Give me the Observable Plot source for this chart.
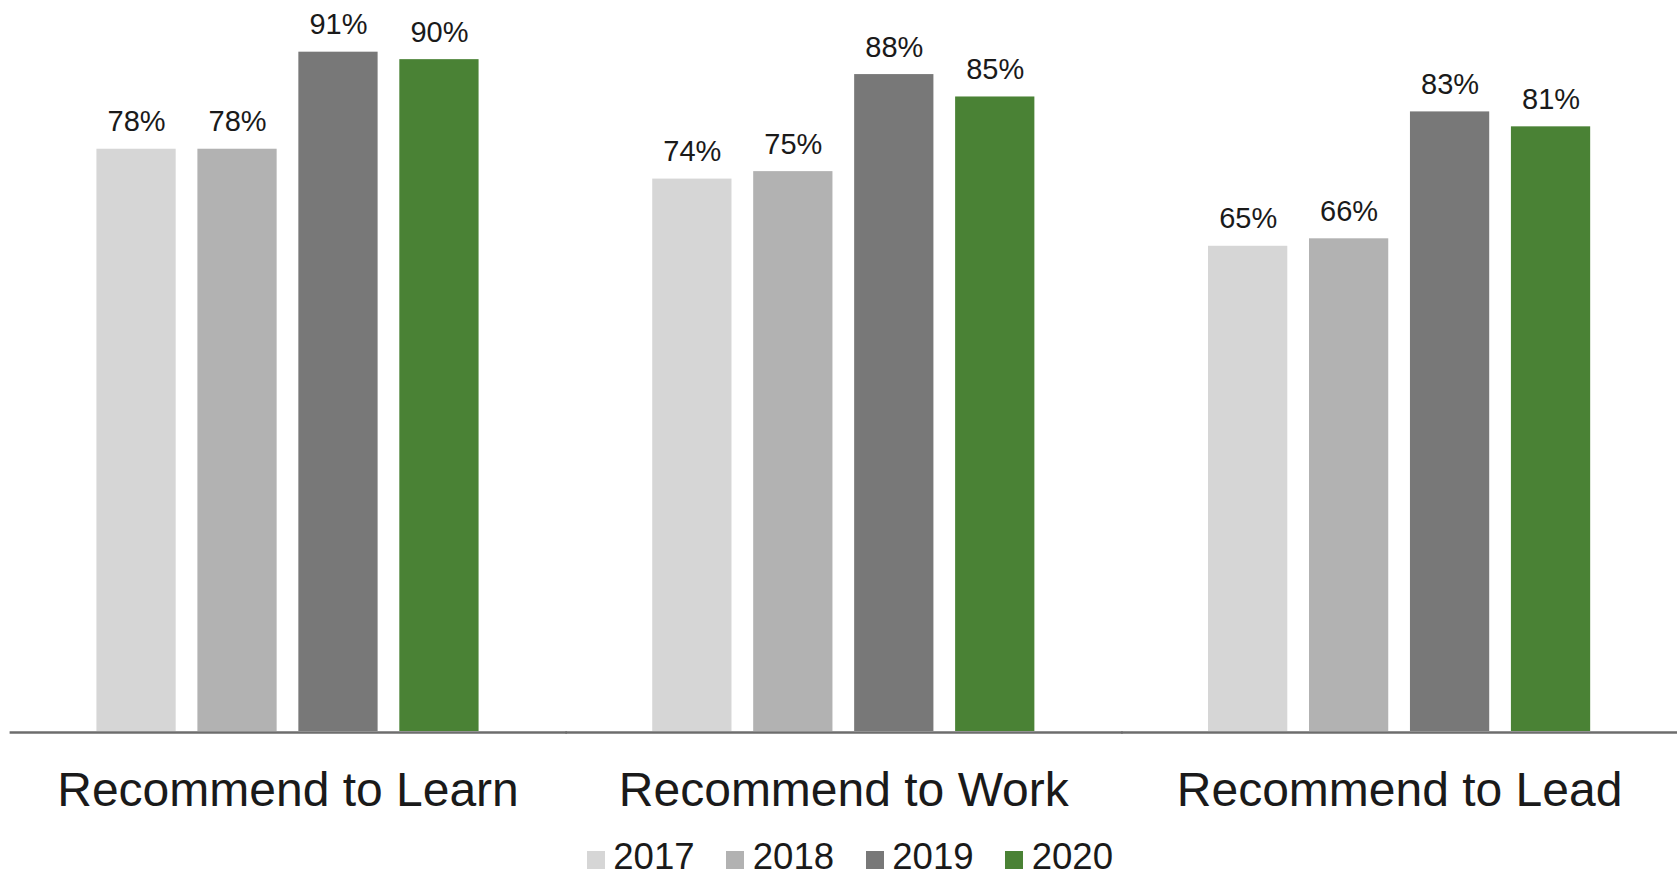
<!DOCTYPE html>
<html><head><meta charset="utf-8">
<script src="https://cdn.jsdelivr.net/npm/d3@7"></script>
<script src="https://cdn.jsdelivr.net/npm/@observablehq/plot@0.6"></script>
<style>
body{margin:0;background:#fff;font-family:"Liberation Sans",Arial,sans-serif;overflow:hidden}
#wrap{position:relative;width:1677px;height:876px;overflow:hidden}
#wrap svg{display:block}
#legend{position:absolute;left:586.7px;top:839.3px;display:flex;gap:31.5px;font-size:36.6px;line-height:36px;color:#1a1a1a}
.item{position:relative;padding-left:26.6px;white-space:nowrap}
.sw{position:absolute;left:0;top:12.2px;width:18.3px;height:17.6px}
</style></head><body><div id="wrap"></div>
<script>
const categories = ["Recommend to Learn", "Recommend to Work", "Recommend to Lead"];
const years = ["2017", "2018", "2019", "2020"];
const colors = ["#d6d6d6", "#b2b2b2", "#787878", "#4a8235"];
const values2017 = [78, 74, 65];
const values2018 = [78, 75, 66];
const values2019 = [91, 88, 83];
const values2020 = [90, 85, 81];
const series = [values2017, values2018, values2019, values2020];

const data = [];
categories.forEach((c, i) => years.forEach((y, j) => data.push({category: c, year: y, value: series[j][i]})));

const chart = Plot.plot({
  width: 1677, height: 836,
  marginLeft: 9.6, marginRight: 0, marginTop: 0, marginBottom: 105,
  style: {fontFamily: "'Liberation Sans', Arial, sans-serif", background: "transparent"},
  fx: {domain: categories, padding: 0, round: false, label: null},
  x: {domain: years, paddingInner: 0.215, paddingOuter: 0.86, round: false, axis: null},
  y: {domain: [0, 100], range: [731, -15.5], axis: null},
  color: {domain: years, range: colors},
  marks: [
    Plot.barY(data, {fx: "category", x: "year", y: "value", fill: "year"}),
    Plot.text(data, {fx: "category", x: "year", y: "value", text: d => d.value + "%", lineAnchor: "bottom", dy: -18, fontSize: 29, fill: "#1a1a1a"}),
    Plot.ruleY([0], {stroke: "#6d6d6d", strokeWidth: 2.3, dy: 1, insetRight: -1.5}),
    Plot.axisFx({anchor: "bottom", tickSize: 0, tickPadding: 40, fontSize: 48, fill: "#1a1a1a", label: null})
  ]
});
const wrap = document.getElementById("wrap");
wrap.appendChild(chart);

const legend = document.createElement("div");
legend.id = "legend";
years.forEach((y, i) => {
  const item = document.createElement("div");
  item.className = "item";
  const sw = document.createElement("span");
  sw.className = "sw";
  sw.style.background = colors[i];
  item.appendChild(sw);
  item.appendChild(document.createTextNode(y));
  legend.appendChild(item);
});
wrap.appendChild(legend);
</script>
</body></html>
